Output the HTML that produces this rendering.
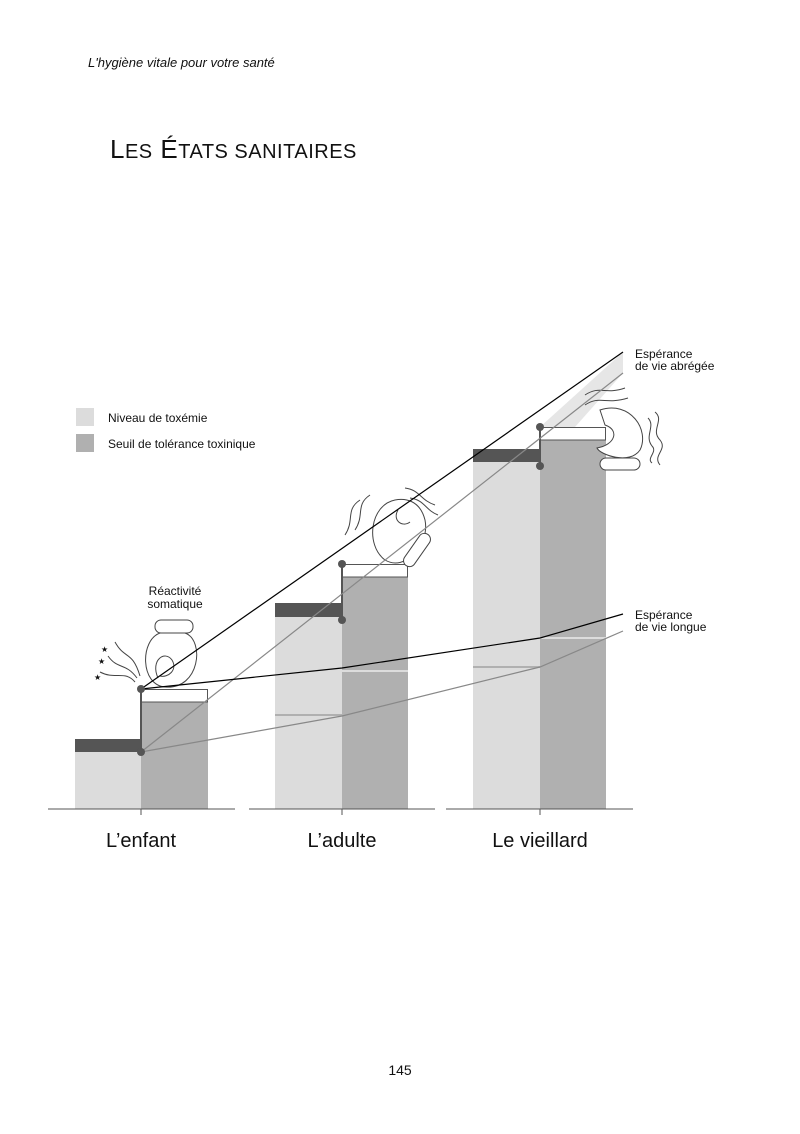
<!DOCTYPE html>
<html><head><meta charset="utf-8"><style>
html,body{margin:0;padding:0;background:#fff;}
svg{display:block;}
text{font-family:"Liberation Sans",sans-serif;fill:#111;}
</style></head><body>
<svg width="800" height="1134" viewBox="0 0 800 1134" xmlns="http://www.w3.org/2000/svg">
<text x="88" y="67" font-size="13" font-style="italic">L'hygiène vitale pour votre santé</text>
<text x="110" y="158" font-size="26" letter-spacing="0.5">L<tspan font-size="20">ES</tspan> É<tspan font-size="20">TATS SANITAIRES</tspan></text>

<!-- legend -->
<rect x="76" y="408" width="18" height="18" fill="#dcdcdc"/>
<rect x="76" y="434" width="18" height="18" fill="#b0b0b0"/>
<text x="108" y="422" font-size="12">Niveau de toxémie</text>
<text x="108" y="448" font-size="12">Seuil de tolérance toxinique</text>

<!-- bars enfant -->
<rect x="75" y="752" width="66" height="57" fill="#dcdcdc"/>
<rect x="75" y="739" width="66" height="13" fill="#555"/>
<rect x="141" y="702" width="67" height="107" fill="#b0b0b0"/>
<rect x="141.5" y="689.5" width="66" height="12.5" fill="#fff" stroke="#555"/>
<line x1="141" y1="689" x2="141" y2="752" stroke="#555" stroke-width="2"/>
<!-- adulte -->
<rect x="275" y="617" width="67" height="192" fill="#dcdcdc"/>
<rect x="275" y="603" width="67" height="14" fill="#555"/>
<rect x="342" y="577" width="66" height="232" fill="#b0b0b0"/>
<rect x="342.5" y="564.5" width="65" height="12.5" fill="#fff" stroke="#555"/>
<line x1="342" y1="564" x2="342" y2="620" stroke="#555" stroke-width="2"/>
<line x1="275" y1="715" x2="342" y2="715" stroke="#b0b0b0" stroke-width="2"/>
<line x1="342" y1="671" x2="408" y2="671" stroke="#dcdcdc" stroke-width="2"/>
<!-- vieillard -->
<rect x="473" y="462" width="67" height="347" fill="#dcdcdc"/>
<rect x="473" y="449" width="67" height="13" fill="#555"/>
<rect x="540" y="440" width="66" height="369" fill="#b0b0b0"/>
<polygon points="540,427 623,352 623,373 575,427" fill="#e6e6e6"/>
<rect x="540.5" y="427.5" width="65" height="12.5" fill="#fff" stroke="#555"/>
<line x1="540" y1="427" x2="540" y2="466" stroke="#555" stroke-width="2"/>
<line x1="473" y1="667" x2="540" y2="667" stroke="#b0b0b0" stroke-width="2"/>
<line x1="540" y1="638" x2="606" y2="638" stroke="#dcdcdc" stroke-width="2"/>

<!-- axis -->
<g stroke="#555" stroke-width="1">
<line x1="48" y1="809" x2="235" y2="809"/>
<line x1="249" y1="809" x2="435" y2="809"/>
<line x1="446" y1="809" x2="633" y2="809"/>
<line x1="141" y1="809" x2="141" y2="815"/>
<line x1="342" y1="809" x2="342" y2="815"/>
<line x1="540" y1="809" x2="540" y2="815"/>
</g>

<!-- icons (simplified, behind lines) -->
<g fill="none" stroke="#444" stroke-width="1">
<rect x="155" y="620" width="38" height="13" rx="6" fill="#fff"/>
<path d="M160,633 C140,640 140,685 165,687 C200,690 205,640 185,633 Z" fill="#fff"/>
<path d="M158,678 C150,660 165,650 172,660 C178,670 168,678 160,676"/>
<path d="M135,682 C125,670 115,680 100,672"/><path d="M137,678 C125,662 118,670 108,656"/><path d="M140,676 C132,650 125,660 115,642"/>
<path d="M395,500 C370,505 365,545 385,560 C405,572 430,545 425,520 C420,500 405,498 395,500 Z" fill="#fff"/>
<path d="M398,510 C392,520 402,528 410,522"/>
<rect x="411" y="531" width="12" height="38" rx="6" transform="rotate(35 417 550)" fill="#fff"/>
<path d="M360,500 C345,510 355,520 345,535"/><path d="M370,495 C355,505 365,515 355,530"/>
<path d="M405,488 C420,490 420,500 435,505"/><path d="M410,498 C425,500 425,510 438,515"/>
<path d="M600,410 C630,400 650,430 640,450 C630,465 600,455 597,448 C615,445 620,430 605,425 Z" fill="#fff"/>
<rect x="600" y="458" width="40" height="12" rx="6" fill="#fff"/>
<path d="M655,412 C665,420 650,430 660,440 C668,450 652,455 660,465"/>
<path d="M648,418 C656,426 644,436 652,446 C658,452 646,458 652,463"/>
<path d="M585,395 C600,385 605,395 625,388"/><path d="M585,405 C600,395 605,405 628,398"/>
</g>

<!-- lines -->
<line x1="141" y1="689" x2="623" y2="352" stroke="#000" stroke-width="1.2"/>
<line x1="141" y1="752" x2="623" y2="373" stroke="#888" stroke-width="1.2"/>
<polyline points="141,689 342,668 540,638 623,614" fill="none" stroke="#000" stroke-width="1.2"/>
<polyline points="141,752 342,716 540,667 623,631" fill="none" stroke="#888" stroke-width="1.2"/>

<g fill="#555">
<circle cx="141" cy="689" r="4"/><circle cx="141" cy="752" r="4"/>
<circle cx="342" cy="564" r="4"/><circle cx="342" cy="620" r="4"/>
<circle cx="540" cy="427" r="4"/><circle cx="540" cy="466" r="4"/>
</g>

<text x="175" y="595" font-size="12" text-anchor="middle">Réactivité</text>
<text x="175" y="608" font-size="12" text-anchor="middle">somatique</text>
<text x="101" y="652" font-size="8">★</text><text x="98" y="664" font-size="8">★</text><text x="94" y="680" font-size="8">★</text>

<text x="635" y="358" font-size="12">Espérance</text>
<text x="635" y="370" font-size="12">de vie abrégée</text>
<text x="635" y="619" font-size="12">Espérance</text>
<text x="635" y="631" font-size="12">de vie longue</text>

<text x="141" y="847" font-size="20" text-anchor="middle">L’enfant</text>
<text x="342" y="847" font-size="20" text-anchor="middle">L’adulte</text>
<text x="540" y="847" font-size="20" text-anchor="middle">Le vieillard</text>

<text x="400" y="1075" font-size="14" text-anchor="middle">145</text>
</svg>
</body></html>
